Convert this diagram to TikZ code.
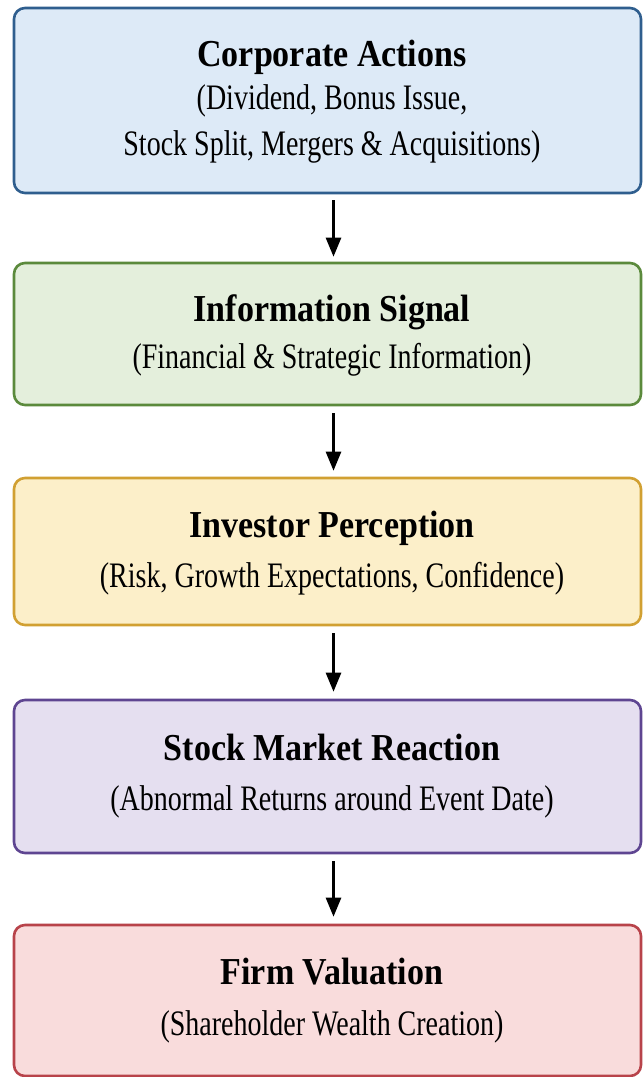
\documentclass[tikz,border=0pt]{standalone}
\usepackage{fontspec}
\setmainfont{Liberation Serif}
\usetikzlibrary{arrows.meta}
\definecolor{fblue}{HTML}{DDEAF7}\definecolor{dblue}{HTML}{2F5E8E}
\definecolor{fgreen}{HTML}{E4EFDC}\definecolor{dgreen}{HTML}{5B8A3C}
\definecolor{fyellow}{HTML}{FCEFC9}\definecolor{dyellow}{HTML}{D1A032}
\definecolor{fpurple}{HTML}{E5DFF0}\definecolor{dpurple}{HTML}{5E4591}
\definecolor{fred}{HTML}{F9DCDC}\definecolor{dred}{HTML}{B8434A}
\newcommand\ttltxt[1]{\scalebox{1}[1.12]{#1}}
\newcommand\subtxt[1]{\scalebox{1}[1.28]{#1}}
\tikzset{
  box/.style={draw=d#1, fill=f#1, line width=2.6pt, rounded corners=11pt, minimum width=627pt, inner sep=0pt},
  ttl/.style={anchor=base, inner sep=0pt, font=\fontsize{34}{40}\selectfont\bfseries},
  sub/.style={anchor=base, inner sep=0pt, font=\fontsize{28}{34}\selectfont},
  arr/.style={line width=2.6pt, -{Triangle[length=19pt,width=15pt]}},
}
\begin{document}
\begin{tikzpicture}[x=1pt,y=-1pt]
\fill[white] (0,0) rectangle (643,1077);
\useasboundingbox (0,0) rectangle (643,1077);
\node[box=blue, minimum height=185pt] (b1) at (327.5,100.5) {};
\node[box=green, minimum height=142pt] (b2) at (327.5,334) {};
\node[box=yellow, minimum height=147pt] (b3) at (327.5,551.5) {};
\node[box=purple, minimum height=153pt] (b4) at (327.5,776.5) {};
\node[box=red, minimum height=151pt] (b5) at (327.5,1000.5) {};
\node[ttl] (t1) at (332,66) {\ttltxt{Corporate Actions}};
\node[sub] (s1a) at (332,109) {\subtxt{(Dividend, Bonus Issue,}};
\node[sub] (s1b) at (332,155) {\subtxt{Stock Split, Mergers \& Acquisitions)}};
\node[ttl] (t2) at (332,321) {\ttltxt{Information Signal}};
\node[sub] (s2) at (332,368) {\subtxt{(Financial \& Strategic Information)}};
\node[ttl] (t3) at (332,537) {\ttltxt{Investor Perception}};
\node[sub] (s3) at (332,587) {\subtxt{(Risk, Growth Expectations, Confidence)}};
\node[ttl] (t4) at (332,760) {\ttltxt{Stock Market Reaction}};
\node[sub] (s4) at (332,810) {\subtxt{(Abnormal Returns around Event Date)}};
\node[ttl] (t5) at (332,984) {\ttltxt{Firm Valuation}};
\node[sub] (s5) at (332,1035) {\subtxt{(Shareholder Wealth Creation)}};
\draw[arr, shorten <=6pt, shorten >=5pt] ([xshift=6pt]b1.south) -- ([xshift=6pt]b2.north);
\draw[arr, shorten <=7pt, shorten >=6pt] ([xshift=6pt]b2.south) -- ([xshift=6pt]b3.north);
\draw[arr, shorten <=7pt, shorten >=7pt] ([xshift=6pt]b3.south) -- ([xshift=6pt]b4.north);
\draw[arr, shorten <=7pt, shorten >=7pt] ([xshift=6pt]b4.south) -- ([xshift=6pt]b5.north);
\end{tikzpicture}
\end{document}
